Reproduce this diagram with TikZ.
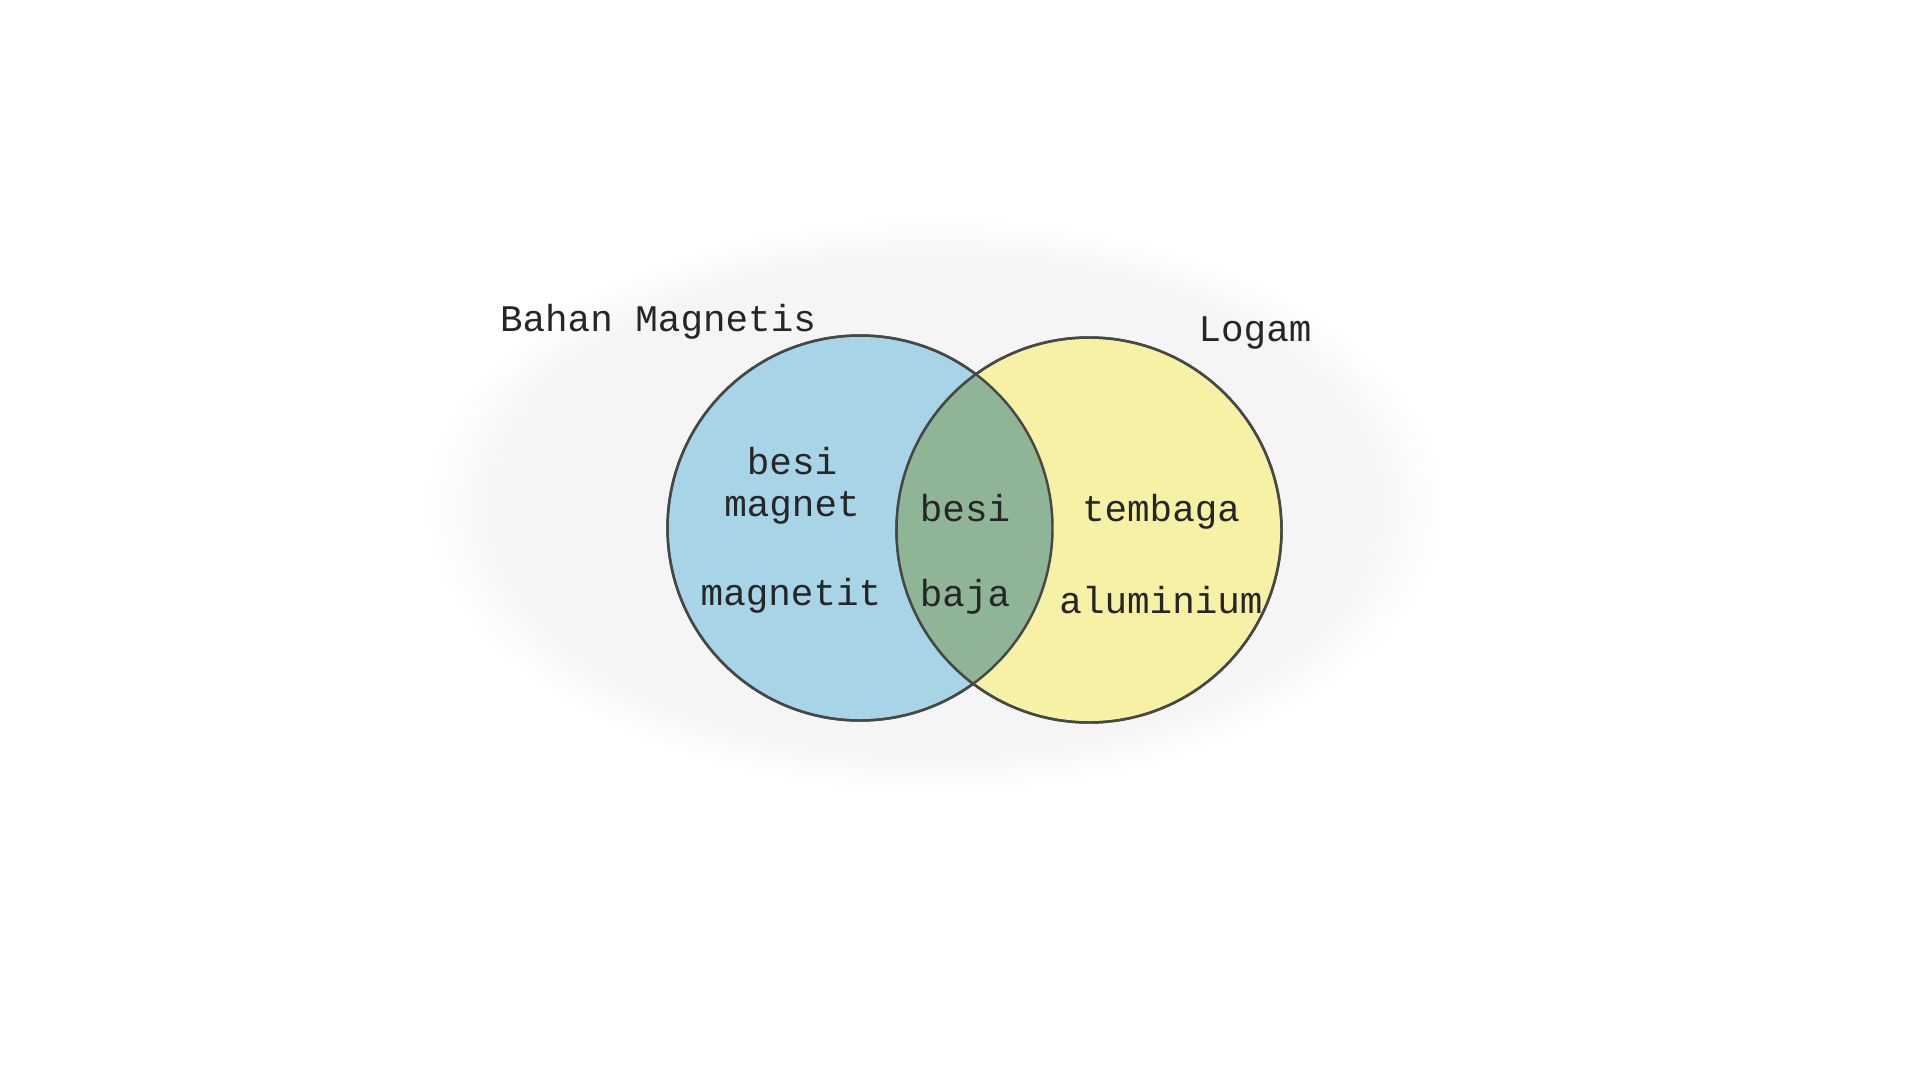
\documentclass[tikz,border=0pt]{standalone}
\usepackage{fontspec}
\setmonofont{Liberation Mono}
\usepackage{tikz}
\usetikzlibrary{positioning,fadings}
\definecolor{magnetblue}{RGB}{168,212,232}
\definecolor{logamyellow}{RGB}{246,241,164}
\definecolor{overlapgreen}{RGB}{143,181,150}
\definecolor{edgegray}{RGB}{70,72,70}

\begin{document}
\begin{tikzpicture}[
    setcircle/.style={circle, draw=edgegray, line width=0.7pt, minimum size=3.85cm, inner sep=0pt},
    item/.style={font=\ttfamily\fontsize{10.7}{13}\selectfont, text=black!85, inner sep=1pt},
    title/.style={font=\ttfamily\fontsize{10.7}{13}\selectfont, text=black!85, inner sep=1pt}
]
    \useasboundingbox (0,0) rectangle (19.2,-10.8);
    \fill[white] (0,0) rectangle (19.2,-10.8);

    % faint page behind the diagram
    \fill[black!4, path fading=circle with fuzzy edge 15 percent]
        (4.3,-2.2) rectangle (14.4,-7.9);

    % the two sets
    \node[setcircle, fill=magnetblue] (magnet) at (8.60,-5.28) {};
    \node[setcircle, fill=logamyellow] (logam) at (10.89,-5.30) {};
    \begin{scope}
        \clip (magnet.center) circle (1.925cm);
        \fill[overlapgreen] (logam.center) circle (1.925cm);
    \end{scope}
    \draw[edgegray, line width=0.7pt] (magnet.center) circle (1.925cm);
    \draw[edgegray, line width=0.7pt] (logam.center) circle (1.925cm);

    \node[title] (tmagnet) at (6.58,-3.22) {Bahan Magnetis};
    \node[title] (tlogam) at (12.55,-3.33) {Logam};

    % members
    \node[item] (besiA) at (7.92,-4.61) {besi};
    \node[item] (magnetA) at (7.92,-5.08) {magnet};
    \node[item] (magnetit) at (7.91,-5.96) {magnetit};
    \node[item] (besiB) at (9.65,-5.08) {besi};
    \node[item] (baja) at (9.65,-5.97) {baja};
    \node[item] (tembaga) at (11.61,-5.12) {tembaga};
    \node[item] (aluminium) at (11.61,-6.00) {aluminium};
\end{tikzpicture}
\end{document}
